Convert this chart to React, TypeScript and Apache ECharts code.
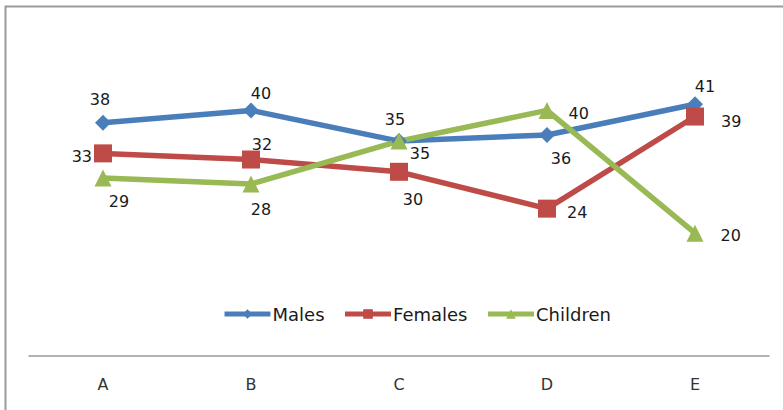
import React, { useEffect, useRef } from "react";
import * as echarts from "echarts";

const categories = ["A", "B", "C", "D", "E"];
const males = [38, 40, 35, 36, 41];
const females = [33, 32, 30, 24, 39];
const children = [29, 28, 35, 40, 20];

const malesLabelPos = ["top", "top", "top", "bottom", "top"];
const femalesLabelPos = ["left", "top", "bottom", "right", "right"];
const childrenLabelPos = ["bottom", "bottom", "bottom", "right", "right"];

const malesOffset = [[-3, 1], [10, 7], [-4, 2], [14, 0], [10, 6]];
const femalesOffset = [[6, 3], [11, 10], [14, 3], [3, 4], [9, 5]];
const childrenOffset = [[16, -1], [10, 1], [21, -12], [5, 3], [9, 2]];

const FONT = "'DejaVu Sans', sans-serif";

function buildData(vals: number[], pos: string[], offs: number[][]) {
  return vals.map((v, i) => ({
    value: v,
    label: { position: pos[i], offset: offs[i] },
  }));
}

export default function App() {
  const ref = useRef<HTMLDivElement>(null);
  useEffect(() => {
    const chart = echarts.init(ref.current!, null, { renderer: "svg" });
    const mk = (name: string, color: string, symbol: string, size: number, data: any[]) => ({
      name,
      type: "line",
      data,
      symbol,
      symbolSize: size,
      lineStyle: { color, width: 5.5 },
      itemStyle: { color },
      label: {
        show: true,
        color: "#1a1a1a",
        fontSize: 16,
        fontFamily: FONT,
        distance: 8,
      },
    });
    chart.setOption({
      animation: false,
      backgroundColor: "#fff",
      grid: { left: 29, right: 14, top: 49, bottom: 54 },
      graphic: [
        {
          type: "rect",
          shape: { x: 5.5, y: 6.5, width: 800, height: 420 },
          style: { fill: "none", stroke: "#9a9a9a", lineWidth: 2 },
          silent: true,
        },
      ],
      legend: {
        top: 305,
        left: 222,
        padding: 0,
        itemWidth: 46,
        itemHeight: 12,
        itemGap: 18,
        lineStyle: { width: 5 },
        textStyle: { fontSize: 18, color: "#1a1a1a", fontFamily: FONT, padding: [0, 0, 0, -3] },
        data: ["Males", "Females", "Children"],
      },
      xAxis: {
        type: "category",
        data: categories,
        boundaryGap: true,
        axisLine: { lineStyle: { color: "#999", width: 1.5 } },
        axisTick: { show: false },
        axisLabel: { fontSize: 16, color: "#333", fontFamily: FONT, margin: 20 },
      },
      yAxis: {
        type: "value",
        min: 0,
        max: 50,
        show: false,
        splitLine: { show: false },
      },
      series: [
        mk("Males", "#4A7EBB", "diamond", 16, buildData(males, malesLabelPos, malesOffset)),
        mk("Females", "#BE4B48", "rect", 18, buildData(females, femalesLabelPos, femalesOffset)),
        mk("Children", "#98B954", "triangle", 17, buildData(children, childrenLabelPos, childrenOffset)),
      ],
    });
    return () => chart.dispose();
  }, []);
  return <div ref={ref} style={{ width: 783, height: 410, position: "absolute", left: 0, top: 0 }} />;
}
